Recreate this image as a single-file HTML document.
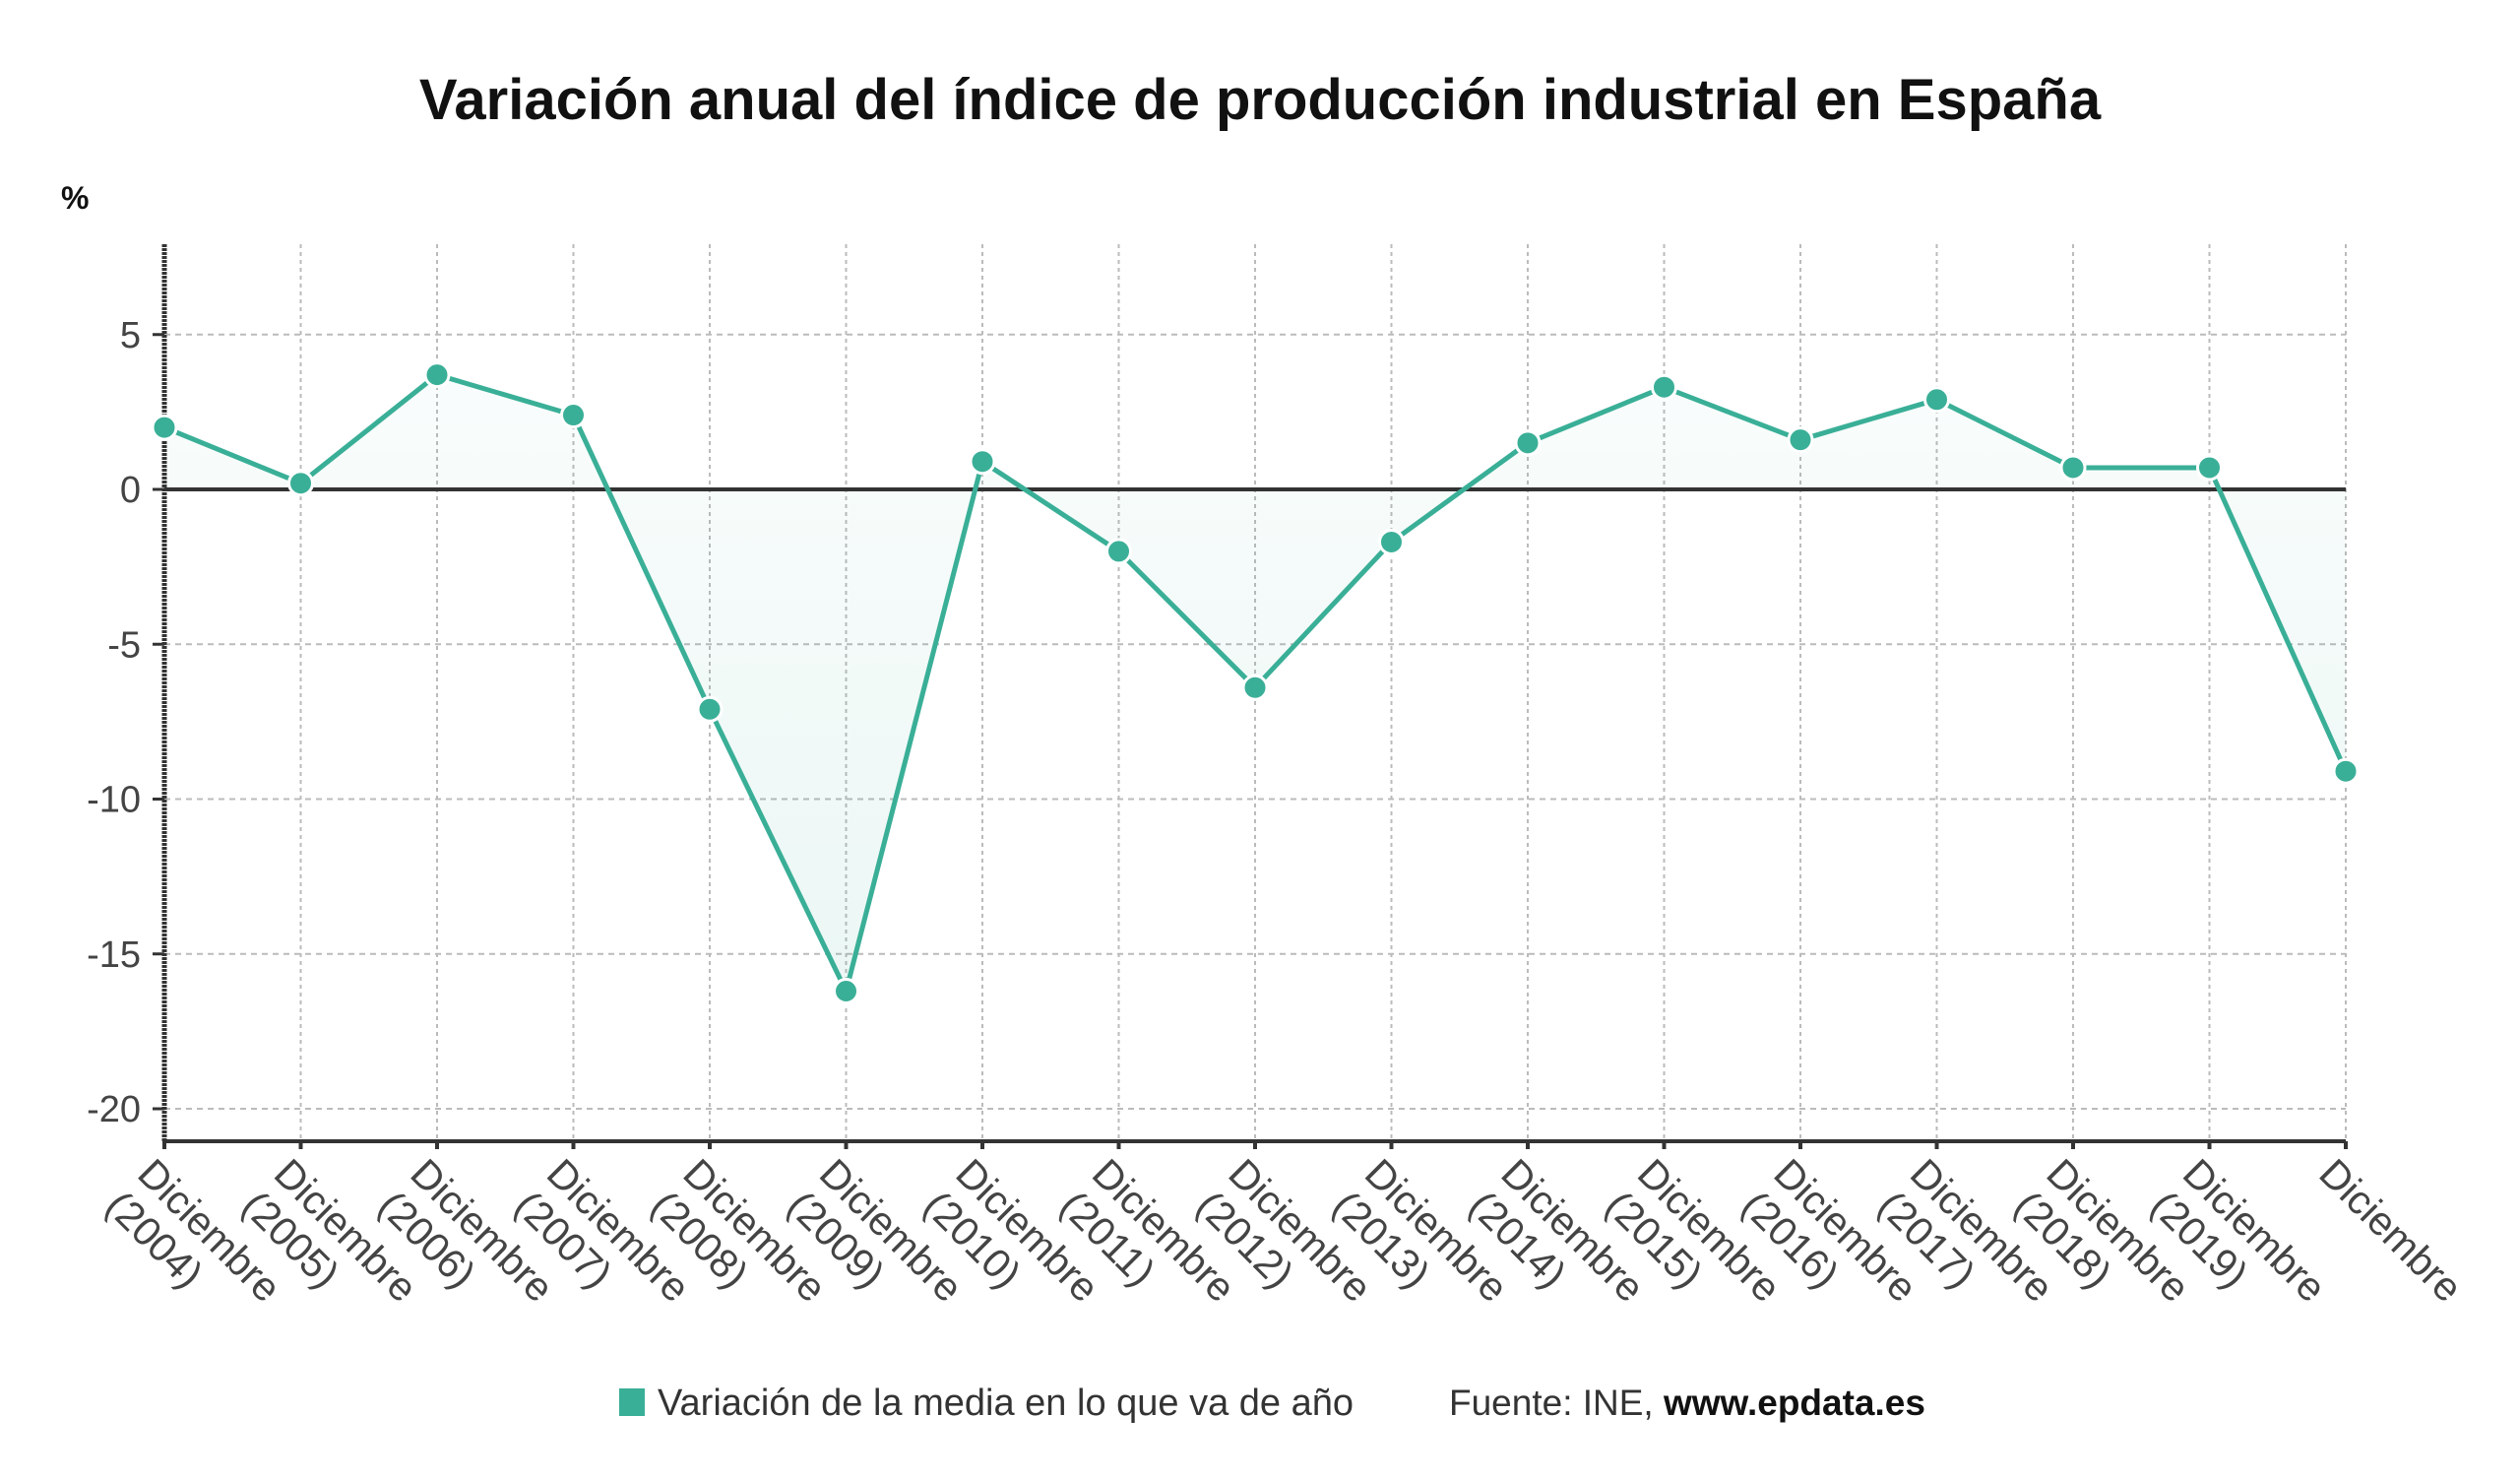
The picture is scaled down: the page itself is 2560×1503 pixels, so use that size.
<!DOCTYPE html>
<html><head><meta charset="utf-8"><style>
html,body{margin:0;padding:0;background:#fff;}
svg{display:block;font-family:"Liberation Sans",sans-serif;}
</style></head><body>
<svg id="c" width="2560" height="1503" viewBox="0 0 2560 1503">
<defs><linearGradient id="fg" x1="0" y1="0" x2="0" y2="1"><stop offset="0" stop-color="#3aaf97" stop-opacity="0.03"/><stop offset="1" stop-color="#3aaf97" stop-opacity="0.10"/></linearGradient></defs>
<text x="1280" y="121" text-anchor="middle" font-size="58" font-weight="bold" fill="#111">Variación anual del índice de producción industrial en España</text>
<text x="62" y="212" font-size="32" font-weight="bold" fill="#111">%</text>
<g id="grid"></g><g id="area"></g><g id="axes"></g><g id="series"></g><g id="labels"></g>
<rect x="629" y="1410" width="26" height="28" fill="#3aaf97"/>
<text x="668" y="1437" font-size="38" fill="#333">Variación de la media en lo que va de año</text>
<text x="1472" y="1437" font-size="37" fill="#333">Fuente: INE, <tspan fill="#111" font-weight="bold">www.epdata.es</tspan></text>
</svg>
<script>
const categories=["Diciembre (2004)","Diciembre (2005)","Diciembre (2006)","Diciembre (2007)","Diciembre (2008)","Diciembre (2009)","Diciembre (2010)","Diciembre (2011)","Diciembre (2012)","Diciembre (2013)","Diciembre (2014)","Diciembre (2015)","Diciembre (2016)","Diciembre (2017)","Diciembre (2018)","Diciembre (2019)","Diciembre"];
const values=[2.0,0.2,3.7,2.4,-7.1,-16.2,0.9,-2.0,-6.4,-1.7,1.5,3.3,1.6,2.9,0.7,0.7,-9.1];
const yTicks=[5,0,-5,-10,-15,-20];
const NS="http://www.w3.org/2000/svg";
const X0=167,X1=2383,Y0=497,PPU=31.45,TOP=248,BOT=1159;
const sx=i=>X0+(X1-X0)*i/(categories.length-1);
const sy=v=>Y0-v*PPU;
function mk(tag,attrs,parent){const e=document.createElementNS(NS,tag);for(const k in attrs)e.setAttribute(k,attrs[k]);document.getElementById(parent).appendChild(e);return e;}
yTicks.forEach(t=>{
 if(t!==0){const l=mk('line',{x1:X0,x2:X1,y1:sy(t),y2:sy(t),stroke:'#bbb','stroke-width':2,'stroke-dasharray':'6,5'},'grid');
 
 }
 const tk=mk('line',{x1:X0-12,x2:X0,y1:sy(t),y2:sy(t),stroke:'#333','stroke-width':3},'axes');
 
 
 const tx=mk('text',{x:X0-24,y:sy(t)+13,'text-anchor':'end','font-size':38,fill:'#444'},'labels');
 tx.textContent=t;
 
 
});
categories.forEach((c,i)=>{
 const x=sx(i);
 if(i>0){const g=mk('line',{x1:x,x2:x,y1:TOP,y2:BOT,stroke:'#bbb','stroke-width':2,'stroke-dasharray':'4,4'},'grid');
 
 }
 const tk=mk('line',{x1:x,x2:x,y1:BOT,y2:BOT+8,stroke:'#333','stroke-width':4},'axes');
 
 
 const parts=c.split(' ');
 const t=mk('text',{transform:`translate(${x-8},${BOT+14}) rotate(45)`,'font-size':41,fill:'#444'},'labels');
 
 
 const s1=document.createElementNS(NS,'tspan');s1.setAttribute('x',0);s1.setAttribute('dy',30);s1.textContent=parts[0];t.appendChild(s1);
 if(parts[1]){const s2=document.createElementNS(NS,'tspan');s2.setAttribute('x',0);s2.setAttribute('dy',46);s2.textContent=parts[1];t.appendChild(s2);}
});
let d=`M${sx(0)},${sy(0)}`;values.forEach((v,i)=>d+=` L${sx(i)},${sy(v)}`);d+=` L${sx(values.length-1)},${sy(0)} Z`;
const ar=mk('path',{d:d,fill:'url(#fg)'},'area');


const ya=mk('line',{x1:X0,x2:X0,y1:TOP,y2:BOT,stroke:'#333','stroke-width':5,'stroke-dasharray':'3,1'},'axes');


const xa=mk('line',{x1:X0,x2:X1,y1:BOT,y2:BOT,stroke:'#333','stroke-width':4},'axes');


const zl=mk('line',{x1:X0,x2:X1,y1:sy(0),y2:sy(0),stroke:'#333','stroke-width':4},'axes');


const ln=mk('polyline',{points:values.map((v,i)=>sx(i)+','+sy(v)).join(' '),fill:'none',stroke:'#3aaf97','stroke-width':5,'stroke-linejoin':'round'},'series');


values.forEach((v,i)=>{const p=mk('circle',{cx:sx(i),cy:sy(v),r:12,fill:'#3aaf97',stroke:'#fff','stroke-width':3},'series');
 
 });
</script>
</body></html>
